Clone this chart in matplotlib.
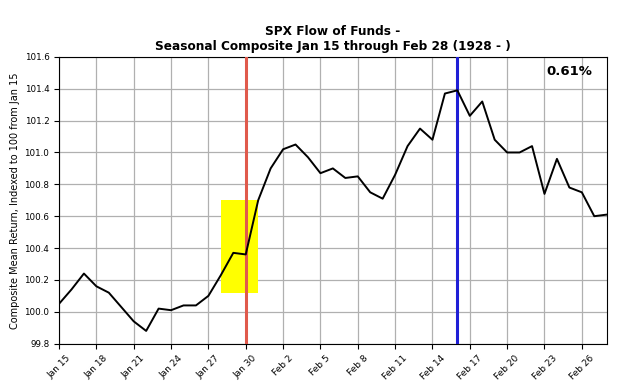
import datetime as dt
import matplotlib
matplotlib.use("Agg")
import matplotlib.pyplot as plt
import matplotlib.dates as mdates
from matplotlib.patches import Rectangle

# daily composite, Jan 15 .. Feb 28
start = dt.date(2021, 1, 15)
values = [100.05, 100.14, 100.24, 100.16, 100.12, 100.03, 99.94, 99.88, 100.02, 100.01,
          100.04, 100.04, 100.10, 100.23, 100.37, 100.36, 100.70, 100.90, 101.02, 101.05,
          100.97, 100.87, 100.90, 100.84, 100.85, 100.75, 100.71, 100.86, 101.04, 101.15,
          101.08, 101.37, 101.39, 101.23, 101.32, 101.08, 101.00, 101.00, 101.04, 100.74,
          100.96, 100.78, 100.75, 100.60, 100.61]
dates = [start + dt.timedelta(days=i) for i in range(len(values))]

red_day = dt.date(2021, 1, 30)
blue_day = dt.date(2021, 2, 16)
box_x = (dt.date(2021, 1, 28), dt.date(2021, 1, 31))
box_y = (100.12, 100.70)
change_label = "0.61%"

fig = plt.figure(figsize=(6.32, 3.87), dpi=100)
ax = fig.add_axes([0.0934, 0.112, 0.8666, 0.741])

x0 = mdates.date2num(box_x[0])
x1 = mdates.date2num(box_x[1])
ax.add_patch(Rectangle((x0, box_y[0]), x1 - x0, box_y[1] - box_y[0],
                       facecolor="yellow", edgecolor="none", zorder=2))
ax.plot(dates, values, color="black", lw=1.4, zorder=4)
ax.axvline(red_day, color="#e05a4c", lw=2.2, zorder=3)
ax.axvline(blue_day, color="#1f1fd6", lw=2.2, zorder=3)

ax.set_xlim(dates[0], dates[-1])
ax.set_ylim(99.8, 101.6)
ax.set_yticks([99.8, 100.0, 100.2, 100.4, 100.6, 100.8, 101.0, 101.2, 101.4, 101.6])
ax.set_xticks(dates[::3])
ax.xaxis.set_major_formatter(mdates.DateFormatter("%b %-d"))
ax.tick_params(axis="x", labelsize=6.5, rotation=45)
ax.tick_params(axis="y", labelsize=6.3)
ax.grid(True, color="#b0b0b0", lw=0.9)
ax.set_axisbelow(True)

ax.set_ylabel("Composite Mean Return, Indexed to 100 from Jan 15", fontsize=7, labelpad=3)
ax.set_title("SPX Flow of Funds -\nSeasonal Composite Jan 15 through Feb 28 (1928 - )",
             fontsize=8.7, fontweight="bold", linespacing=1.15, pad=5)
ax.text(0.973, 0.948, change_label, transform=ax.transAxes, ha="right", va="center",
        fontsize=9.5, fontweight="bold")

fig.savefig("out.png", dpi=100)
